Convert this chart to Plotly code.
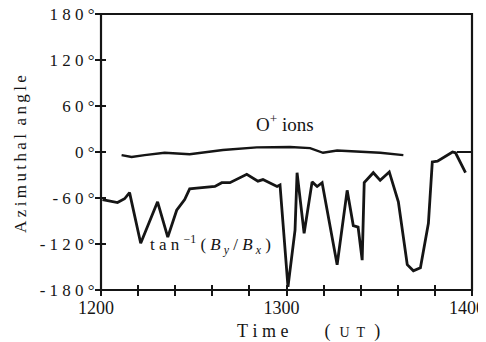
import plotly.graph_objects as go

# O+ ions azimuthal angle
ion_time = [1211.1, 1216.5, 1223.5, 1234.3, 1247.8, 1265.7, 1284.0, 1301.9, 1312.7,
            1319.7, 1327.3, 1341.4, 1350.5, 1363.0]
ion_angle = [-4, -6.5, -4, -1, -3, 2.6, 6, 6.5, 5, -1, 2, 0, -1, -4]

# Magnetic field azimuth tan^-1(By/Bx)
b_time = [1200.8, 1208.9, 1212.7, 1215.4, 1221.4, 1230.5, 1236.0, 1240.8, 1245.1, 1247.8,
          1251.6, 1261.4, 1265.1, 1269.5, 1278.6, 1284.6, 1287.3, 1294.9, 1296.5, 1300.8,
          1304.6, 1305.7, 1309.5, 1313.8, 1316.5, 1319.2, 1327.3, 1332.7, 1336.0, 1338.6,
          1340.8, 1341.9, 1346.8, 1350.5, 1355.4, 1360.3, 1365.1, 1368.4, 1372.2, 1376.5,
          1378.6, 1381.4, 1389.5, 1391.1, 1396.5]
b_angle = [-62, -66, -61, -53, -119, -65, -111, -76, -62, -48,
           -47, -45, -40, -40, -29, -38, -36, -45, -43, -176,
           -102, -27, -106, -39, -45, -40, -147, -50, -96, -98,
           -141, -40, -27, -37, -26, -65, -147, -155, -151, -93,
           -13, -12, 0, -1, -27]

x_ticks = [1200, 1220, 1240, 1260, 1280, 1300, 1320, 1340, 1360, 1380, 1400]
x_labels = ["1200", "", "", "", "", "1300", "", "", "", "", "1400"]
y_ticks = [-180, -120, -60, 0, 60, 120, 180]
y_labels = ["- 1 8 0 °", "- 1 2 0 °", "- 6 0 °", "0 °", "6 0 °", "1 2 0 °", "1 8 0 °"]

FONT = "Liberation Serif"
INK = "#151515"
SP = "\u00a0"
TH = "\u2009"

fig = go.Figure()
fig.add_trace(go.Scatter(x=ion_time, y=ion_angle, mode="lines",
                         line=dict(color=INK, width=2.4), showlegend=False))
fig.add_trace(go.Scatter(x=b_time, y=b_angle, mode="lines",
                         line=dict(color=INK, width=2.8), showlegend=False))
# invisible traces to activate overlay axes (crossing ticks, right-hand 0 tick)
fig.add_trace(go.Scatter(x=[1200], y=[0], xaxis="x2", yaxis="y2", mode="markers",
                         marker=dict(opacity=0), showlegend=False, hoverinfo="skip"))
fig.add_trace(go.Scatter(x=[1200], y=[0], xaxis="x2", yaxis="y3", mode="markers",
                         marker=dict(opacity=0), showlegend=False, hoverinfo="skip"))

base = dict(showline=False, showgrid=False, zeroline=False, automargin=False)

x_title = SP.join("Time") + SP * 8 + "(" + SP * 2 + \
    "<span style='font-size:14px'>U" + SP * 2 + "T</span>" + SP * 2 + ")"
y_title = TH.join("Azimuthal") + SP * 2 + TH.join("angle")

# page body adds an 8px offset; the figure is sized so the plot lands where the reference has it
fig.update_layout(
    width=478, height=334,
    margin=dict(l=93, r=14, t=6, b=52),
    paper_bgcolor="white", plot_bgcolor="white",
    font=dict(family=FONT, size=16, color=INK),
    xaxis=dict(range=[1200, 1400], tickmode="array", tickvals=x_ticks, ticktext=x_labels,
               ticks="outside", ticklen=5, tickwidth=2, tickcolor=INK,
               ticklabelstandoff=-4, ticklabelshift=-5, ticklabeloverflow="allow",
               tickfont=dict(family=FONT, size=18), **base),
    yaxis=dict(range=[-180, 180], tickmode="array", tickvals=y_ticks, ticktext=y_labels,
               ticks="outside", ticklen=5, tickwidth=2, tickcolor=INK,
               ticklabelstandoff=-3, ticklabeloverflow="allow",
               tickfont=dict(family=FONT, size=17), **base),
    xaxis2=dict(range=[1200, 1400], overlaying="x", tickmode="array",
                tickvals=x_ticks[1:-1], ticks="inside", ticklen=5, tickwidth=2,
                tickcolor=INK, showticklabels=False, **base),
    yaxis2=dict(range=[-180, 180], overlaying="y", tickmode="array",
                tickvals=y_ticks[1:-1], ticks="inside", ticklen=5, tickwidth=2,
                tickcolor=INK, showticklabels=False, **base),
    yaxis3=dict(range=[-180, 180], overlaying="y", side="right", tickmode="array",
                tickvals=[0], ticks="inside", ticklen=15, tickwidth=2, tickcolor=INK,
                showticklabels=False, **base),
    shapes=[dict(type="rect", xref="paper", yref="paper", x0=0, x1=1, y0=0, y1=1,
                 line=dict(color=INK, width=2.2), fillcolor="rgba(0,0,0,0)", layer="above")],
    annotations=[
        dict(x=1299, y=38, xref="x", yref="y", showarrow=False,
             text="O<sup>+</sup>" + SP + "ions", font=dict(family=FONT, size=19)),
        dict(x=1259, y=-121, xref="x", yref="y", showarrow=False,
             text=SP.join("tan") + SP + "<sup>−1</sup>" + SP + "(" + SP +
                  "<i>B</i><sub>" + SP + "<i>y</i></sub>" + SP + "/" + SP +
                  "<i>B</i><sub>" + SP + "<i>x</i></sub>" + SP + ")",
             font=dict(family=FONT, size=17)),
        dict(x=0.5, y=0, xref="paper", yref="paper", xshift=22, yshift=-41,
             showarrow=False, xanchor="center", yanchor="middle",
             text=x_title, font=dict(family=FONT, size=18)),
        dict(x=0, y=0.5, xref="paper", yref="paper", xshift=-81, yshift=-2,
             showarrow=False, xanchor="center", yanchor="middle",
             textangle=-90, text=y_title, font=dict(family=FONT, size=17)),
    ],
)

fig.write_html("out.html")
